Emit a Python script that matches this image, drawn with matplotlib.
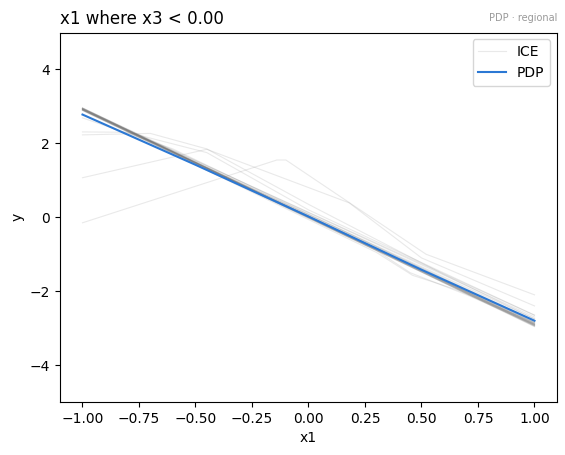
import matplotlib
matplotlib.use("Agg")
import matplotlib.pyplot as plt

# straight ICE curves: value at x1=-1 and at x1=1
ice_start = [2.95, 2.93, 2.92, 2.96, 2.90, 2.94, 2.91, 2.95, 2.93, 2.89, 2.92, 2.94,
             2.90, 2.96, 2.93, 2.91, 2.95, 2.92, 2.94, 2.90]
ice_end = [-2.92, -2.88, -2.95, -2.90, -2.85, -2.93, -2.87, -2.91, -2.83, -2.94,
           -2.89, -2.80, -2.75, -2.96, -2.90, -2.92, -2.70, -2.65, -2.88, -2.93]

# ICE curves with kinks (x knots, y values)
ice_a_x = [-1.0, -0.14, -0.10, 0.52, 1.0]
ice_a_y = [-0.15, 1.55, 1.55, -1.00, -2.10]
ice_b_x = [-1.0, -0.45, 0.18, 0.50, 1.0]
ice_b_y = [1.07, 1.84, 0.39, -1.10, -2.40]
ice_c_x = [-1.0, -0.70, -0.45, 0.0, 0.60, 1.0]
ice_c_y = [2.23, 2.27, 1.85, 0.35, -1.55, -2.75]
ice_d_x = [-1.0, -0.80, -0.45, 0.0, 1.0]
ice_d_y = [2.31, 2.30, 1.75, 0.20, -2.65]
ice_e_x = [-1.0, -0.60, 1.0]
ice_e_y = [2.69, 1.85, -2.85]
ice_f_x = [-1.0, 0.30, 0.46, 0.65, 1.0]
ice_f_y = [2.90, -0.95, -1.57, -1.95, -2.85]
ice_g_x = [-1.0, 0.30, 0.45, 0.70, 1.0]
ice_g_y = [2.92, -0.90, -1.50, -2.10, -2.90]

# partial dependence
pdp_x = [-1.0, -0.5, 0.0, 0.5, 1.0]
pdp_y = [2.78, 1.42, 0.02, -1.42, -2.80]

ice_color = "#666666"
ice_alpha = 0.14

fig = plt.figure(figsize=(5.65, 4.55), dpi=100)
ax = fig.add_axes([0.106, 0.1165, 0.88, 0.812])

for s, e in zip(ice_start, ice_end):
    ax.plot([-1.0, 1.0], [s, e], color=ice_color, alpha=ice_alpha, lw=0.8)
for xs, ys in [(ice_a_x, ice_a_y), (ice_b_x, ice_b_y), (ice_c_x, ice_c_y),
               (ice_d_x, ice_d_y), (ice_e_x, ice_e_y), (ice_f_x, ice_f_y),
               (ice_g_x, ice_g_y)]:
    ax.plot(xs, ys, color=ice_color, alpha=ice_alpha, lw=0.8)

ax.plot([], [], color=ice_color, alpha=ice_alpha, lw=0.8, label="ICE")
ax.plot(pdp_x, pdp_y, color="#2b78d4", lw=1.5, label="PDP")

ax.set_ylim(-5, 5)
ax.set_xlabel("x1")
ax.set_ylabel("y")
ax.set_title("x1 where x3 < 0.00", loc="left", fontsize=12)
ax.text(1.0, 1.025, "PDP · regional", transform=ax.transAxes, ha="right",
        va="bottom", fontsize=7, color="#999999")
ax.legend(loc="upper right")

fig.savefig("out.png", dpi=100)
